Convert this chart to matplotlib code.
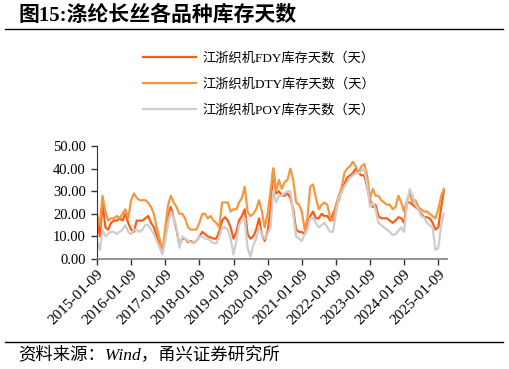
import matplotlib
matplotlib.use("Agg")
import matplotlib.pyplot as plt
import pandas as pd

# ---- data (monthly readings, starting 2015-01-09) ----
start_date = "2015-01-09"
fdy = [18, 10, 25, 14, 13, 16, 17, 17, 18, 17, 20, 16,
       13, 12, 17, 17, 17, 18, 19, 16, 14, 10, 6, 3,
       10, 19, 23, 18, 13, 6, 9, 9, 7.5, 8, 7, 8,
       10, 12, 11, 10, 9.5, 9, 9, 12, 17, 18.5, 17, 14,
       9, 12, 17, 19, 22, 11, 9, 10, 13, 18, 11, 8,
       12, 22, 40, 29, 30, 28, 28, 29, 27, 22, 13, 12,
       12, 11, 15, 19, 21, 18, 18, 20, 19, 19, 17, 20,
       23, 26, 31, 33, 36, 37, 38, 40, 38, 37, 37, 32,
       26, 23, 24, 19, 18, 18, 18, 17, 16, 17, 18.5, 18,
       16, 25, 25, 24, 23, 22, 20, 18.5, 18.5, 18, 16, 13,
       14, 23, 30]
dty = [20, 15, 28, 21, 17, 18, 18, 19, 18, 20, 22, 18,
       26, 29, 27, 26, 26, 26, 25, 23, 20, 14, 9, 3,
       14, 24, 28, 25, 23, 20, 20, 18, 14, 13, 13, 13,
       16, 20, 20, 18, 19, 17, 16, 14, 25, 25, 25, 21,
       22, 22, 25, 27, 32, 21, 19, 20, 22, 26, 21, 14,
       20, 30, 40, 30, 35, 31, 34, 35, 40, 35, 25, 24,
       21, 13, 18, 32, 33, 27, 22, 24, 25, 24, 18, 17,
       24, 28, 31, 38, 40, 41, 43, 41, 38, 41, 42, 37,
       27, 31, 28, 28, 26, 25, 24, 24, 22, 23, 28, 25,
       21, 26, 29, 25, 26, 23, 22, 21, 21, 20, 19, 18,
       22, 28, 31]
poy = [8, 4, 13, 10, 11, 12, 12, 11, 12, 13, 15, 12,
       11, 13, 13, 12, 13, 15, 15, 13, 11, 8, 5, 2,
       8, 16, 21, 18, 14, 5, 10, 9, 8, 7.5, 7, 8,
       10, 10, 9, 9, 8, 7, 7, 10, 14, 14, 13, 9,
       2, 8, 15, 17, 18, 5, 1, 6, 9, 14, 11, 9,
       11, 14, 30, 25, 28, 28, 29, 30, 30, 20, 10, 9,
       8, 11, 13, 18, 18, 16, 14, 15, 16, 14, 12, 12,
       20, 27, 29, 32, 34, 36, 37, 38, 38, 39, 40, 33,
       23, 25, 22, 16, 15, 14, 13, 12, 10.5, 11, 12.5, 14,
       12, 25, 31, 28, 24, 22, 19, 18.5, 16, 15, 14, 4,
       5, 15, 20]
labels = ["江浙织机FDY库存天数（天）", "江浙织机DTY库存天数（天）", "江浙织机POY库存天数（天）"]
tick_dates = ["2015-01-09", "2016-01-09", "2017-01-09", "2018-01-09", "2019-01-09",
              "2020-01-09", "2021-01-09", "2022-01-09", "2023-01-09", "2024-01-09",
              "2025-01-09"]
yticks = [0, 10, 20, 30, 40, 50]
title = "图15:涤纶长丝各品种库存天数"
source = "资料来源：Wind，甬兴证券研究所"

colors = ["#FF5B14", "#F7963F", "#CDCDCD"]

dates = pd.date_range(start_date, periods=len(fdy), freq=pd.DateOffset(months=1))

fam = ["Liberation Serif", "Noto Sans CJK SC", "DejaVu Sans"]
plt.rcParams["font.family"] = fam

fig = plt.figure(figsize=(5.09, 3.69), dpi=100)
ax = fig.add_axes([97 / 509, 1 - 259 / 369, (447 - 97) / 509, (259 - 146) / 369])

for vals, c, lab in zip([fdy, dty, poy], colors, labels):
    ax.plot(dates, vals, color=c, lw=1.6, label=lab, solid_joinstyle="round")

ax.set_ylim(0, 50)
ax.set_yticks(yticks)
ax.set_yticklabels([f"{v:.2f}" for v in yticks], fontsize=10.5)
ax.set_xlim(pd.Timestamp(start_date), pd.Timestamp("2025-04-12"))
tds = [pd.Timestamp(d) for d in tick_dates]
ax.set_xticks(tds)
ax.set_xticklabels(tick_dates, rotation=45, ha="right", rotation_mode="anchor", fontsize=11)
ax.tick_params(axis="x", length=4, width=1, color="#333333", pad=2)
ax.tick_params(axis="y", length=4, width=1, color="#333333", pad=4)
for s in ["top", "right"]:
    ax.spines[s].set_visible(False)
ax.spines["left"].set_color("#333333")
ax.spines["bottom"].set_color("#808080")
ax.spines["bottom"].set_linewidth(1.2)

leg = fig.legend(loc="upper left", bbox_to_anchor=(138 / 509, 1 - 47 / 369), frameon=False,
                 fontsize=9.5, handlelength=4.0, labelspacing=1.0, handletextpad=0.5,
                 borderaxespad=0)

# title and footer
fig.text(18 / 509, 1 - 16 / 369, title, fontsize=15, fontweight="bold", va="center", ha="left",
         family=["Liberation Serif", "Noto Sans CJK SC"])
fig.add_artist(plt.Line2D([5 / 509, 503 / 509], [1 - 29 / 369, 1 - 29 / 369], color="black", lw=1))
fig.add_artist(plt.Line2D([5 / 509, 503 / 509], [1 - 342 / 369, 1 - 342 / 369], color="black", lw=1))
fig.text(18 / 509, 1 - 355 / 369, source, fontsize=12.5, style="italic", va="center", ha="left")

fig.savefig("out.png", dpi=100)
